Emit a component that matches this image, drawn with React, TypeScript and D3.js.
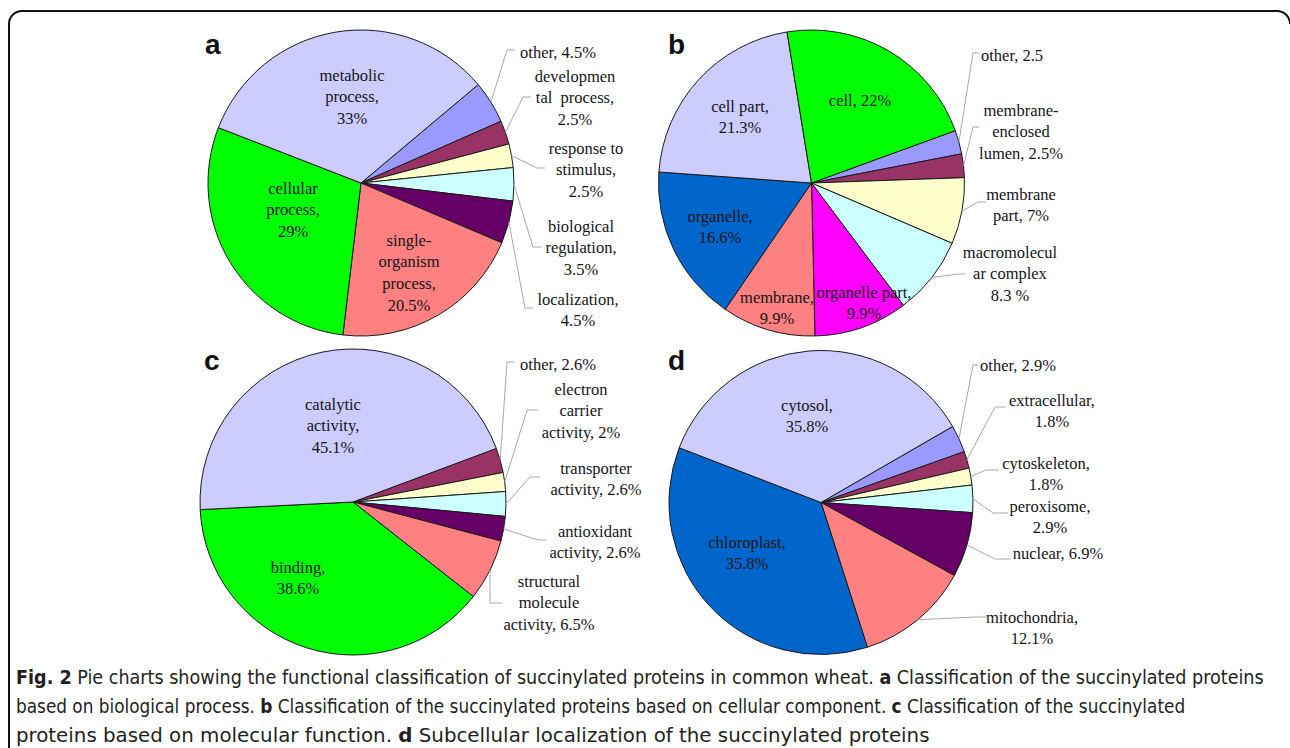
import React, { useEffect, useRef } from 'react';
import * as d3 from 'd3';

// a: biological process
const processNames = ['other', 'developmental process', 'response to stimulus', 'biological regulation', 'localization', 'single-organism process', 'cellular process', 'metabolic process'];
const processValues = [4.5, 2.5, 2.5, 3.5, 4.5, 20.5, 29, 33];
const processLines = [
  ['other, 4.5%'],
  ['developmen', 'tal  process,', '2.5%'],
  ['response to', 'stimulus,', '2.5%'],
  ['biological', 'regulation,', '3.5%'],
  ['localization,', '4.5%'],
  ['single-', 'organism', 'process,', '20.5%'],
  ['cellular', 'process,', '29%'],
  ['metabolic', 'process,', '33%'],
];

// b: cellular component
const componentNames = ['other', 'membrane-enclosed lumen', 'membrane part', 'macromolecular complex', 'organelle part', 'membrane', 'organelle', 'cell part', 'cell'];
const componentValues = [2.5, 2.5, 7, 8.3, 9.9, 9.9, 16.6, 21.3, 22];
const componentLines = [
  ['other, 2.5'],
  ['membrane-', 'enclosed', 'lumen, 2.5%'],
  ['membrane', 'part, 7%'],
  ['macromolecul', 'ar complex', '8.3 %'],
  ['organelle part,', '9.9%'],
  ['membrane,', '9.9%'],
  ['organelle,', '16.6%'],
  ['cell part,', '21.3%'],
  ['cell, 22%'],
];

// c: molecular function
const functionNames = ['other', 'electron carrier activity', 'transporter activity', 'antioxidant activity', 'structural molecule activity', 'binding', 'catalytic activity'];
const functionValues = [2.6, 2, 2.6, 2.6, 6.5, 38.6, 45.1];
const functionLines = [
  ['other, 2.6%'],
  ['electron', 'carrier', 'activity, 2%'],
  ['transporter', 'activity, 2.6%'],
  ['antioxidant', 'activity, 2.6%'],
  ['structural', 'molecule', 'activity, 6.5%'],
  ['binding,', '38.6%'],
  ['catalytic', 'activity,', '45.1%'],
];

// d: subcellular localization
const locationNames = ['other', 'extracellular', 'cytoskeleton', 'peroxisome', 'nuclear', 'mitochondria', 'chloroplast', 'cytosol'];
const locationValues = [2.9, 1.8, 1.8, 2.9, 6.9, 12.1, 35.8, 35.8];
const locationLines = [
  ['other, 2.9%'],
  ['extracellular,', '1.8%'],
  ['cytoskeleton,', '1.8%'],
  ['peroxisome,', '2.9%'],
  ['nuclear, 6.9%'],
  ['mitochondria,', '12.1%'],
  ['chloroplast,', '35.8%'],
  ['cytosol,', '35.8%'],
];

const captionLines = [
  [['Fig. 2', true], [' Pie charts showing the functional classification of succinylated proteins in common wheat. ', false], ['a', true], [' Classification of the succinylated proteins', false]],
  [['based on biological process. ', false], ['b', true], [' Classification of the succinylated proteins based on cellular component. ', false], ['c', true], [' Classification of the succinylated', false]],
  [['proteins based on molecular function. ', false], ['d', true], [' Subcellular localization of the succinylated proteins', false]],
];

// colours (Excel-like palette)
const processColors = ['#9999FF', '#993366', '#FFFFCC', '#CCFFFF', '#660066', '#FF8080', '#00FF00', '#CCCCFF'];
const componentColors = ['#9999FF', '#993366', '#FFFFCC', '#CCFFFF', '#FF00FF', '#FF8080', '#0066CC', '#CCCCFF', '#00FF00'];
const functionColors = ['#993366', '#FFFFCC', '#CCFFFF', '#660066', '#FF8080', '#00FF00', '#CCCCFF'];
const locationColors = ['#9999FF', '#993366', '#FFFFCC', '#CCFFFF', '#660066', '#FF8080', '#0066CC', '#CCCCFF'];

type Slot = { inside?: boolean; x: number; y: number; elbow?: number[]; end?: number[]; anchor?: string };

// label placement (layout only)
const processSlots: Slot[] = [
  { x: 558, y: 52, elbow: [507, 50], end: [515, 50] },
  { x: 575, y: 76, elbow: [523, 97], end: [531, 97] },
  { x: 586, y: 148, elbow: [537, 168], end: [545, 168] },
  { x: 581, y: 226, elbow: [533, 247], end: [542, 247] },
  { x: 578, y: 299, elbow: [525, 308], end: [533, 308] },
  { inside: true, x: 409, y: 240 },
  { inside: true, x: 293, y: 188 },
  { inside: true, x: 352, y: 75 },
];
const componentSlots: Slot[] = [
  { x: 981, y: 55, elbow: [973, 53], end: [979, 53], anchor: 'start' },
  { x: 1021, y: 110, elbow: [973, 127], end: [979, 127] },
  { x: 1021, y: 194, elbow: [978, 202], end: [986, 202] },
  { x: 1010, y: 252, elbow: [958, 274], end: [965, 274] },
  { inside: true, x: 864, y: 292 },
  { inside: true, x: 777, y: 297 },
  { inside: true, x: 720, y: 216 },
  { inside: true, x: 740, y: 106 },
  { inside: true, x: 860, y: 100 },
];
const functionSlots: Slot[] = [
  { x: 558, y: 364, elbow: [507, 362], end: [515, 362] },
  { x: 581, y: 389, elbow: [527, 410], end: [538, 410] },
  { x: 596, y: 468, elbow: [530, 477], end: [540, 477] },
  { x: 595, y: 531, elbow: [538, 540], end: [546, 540] },
  { x: 549, y: 581, elbow: [490, 603], end: [502, 603] },
  { inside: true, x: 298, y: 567 },
  { inside: true, x: 333, y: 404 },
];
const locationSlots: Slot[] = [
  { x: 1018, y: 365, elbow: [973, 365], end: [978, 365] },
  { x: 1052, y: 400, elbow: [995, 407], end: [1006, 407] },
  { x: 1046, y: 463, elbow: [986, 470], end: [999, 470] },
  { x: 1050, y: 506, elbow: [993, 513], end: [1008, 513] },
  { x: 1058, y: 553, elbow: [995, 559], end: [1011, 559] },
  { x: 1032, y: 617, elbow: [975, 617], end: [987, 617] },
  { inside: true, x: 747, y: 542 },
  { inside: true, x: 807, y: 405 },
];

const panels = [
  { letter: 'a', values: processValues, lines: processLines, colors: processColors, slots: processSlots, cx: 361, cy: 183, r: 153, start: 50, lx: 205, ly: 54 },
  { letter: 'b', values: componentValues, lines: componentLines, colors: componentColors, slots: componentSlots, cx: 811.5, cy: 183, r: 153, start: 70, lx: 668, ly: 54 },
  { letter: 'c', values: functionValues, lines: functionLines, colors: functionColors, slots: functionSlots, cx: 353, cy: 502, r: 153, start: 69.5, lx: 204, ly: 370 },
  { letter: 'd', values: locationValues, lines: locationLines, colors: locationColors, slots: locationSlots, cx: 821, cy: 502.5, r: 152, start: 60, lx: 668, ly: 370 },
];

const W = 1290;
const H = 748;
const LH = 21.6;

const App = () => {
  const ref = useRef<SVGSVGElement>(null);

  useEffect(() => {
    const svg = d3.select(ref.current);
    svg.selectAll('*').remove();

    // figure frame
    svg.append('path')
      .attr('d', `M9,${H} L9,24 A13,13 0 0 1 22,11 L1277,11 A13,13 0 0 1 1290,24`)
      .attr('fill', 'none')
      .attr('stroke', '#111')
      .attr('stroke-width', 2);

    panels.forEach(p => {
      const a0 = (p.start * Math.PI) / 180;
      const pie = d3.pie<number>().sort(null).value(d => d).startAngle(a0).endAngle(a0 + 2 * Math.PI);
      const arcs = pie(p.values);
      const arc = d3.arc<d3.PieArcDatum<number>>().innerRadius(0).outerRadius(p.r);

      const g = svg.append('g');

      g.append('g')
        .attr('transform', `translate(${p.cx},${p.cy})`)
        .selectAll('path')
        .data(arcs)
        .enter()
        .append('path')
        .attr('d', arc)
        .attr('fill', (d, i) => p.colors[i])
        .attr('stroke', '#1a1a1a')
        .attr('stroke-width', 1);

      // leader lines
      arcs.forEach((d, i) => {
        const s = p.slots[i];
        if (s.inside || !s.elbow || !s.end) return;
        const mid = (d.startAngle + d.endAngle) / 2;
        const x0 = p.cx + p.r * Math.sin(mid);
        const y0 = p.cy - p.r * Math.cos(mid);
        g.append('polyline')
          .attr('points', `${x0},${y0} ${s.elbow[0]},${s.elbow[1]} ${s.end[0]},${s.end[1]}`)
          .attr('fill', 'none')
          .attr('stroke', '#a8a8a8')
          .attr('stroke-width', 1);
      });

      // slice labels
      p.lines.forEach((lines, i) => {
        const s = p.slots[i];
        const t = g.append('text')
          .attr('text-anchor', s.anchor || 'middle')
          .style('font-family', "'Liberation Serif', 'Times New Roman', serif")
          .style('font-size', '16.5px')
          .style('white-space', 'pre')
          .attr('fill', '#151515');
        lines.forEach((ln, k) => {
          t.append('tspan')
            .attr('x', s.x)
            .attr('y', s.y + k * LH)
            .attr('dy', '0.35em')
            .text(ln);
        });
      });

      // panel letter
      g.append('text')
        .attr('x', p.lx)
        .attr('y', p.ly)
        .style('font-family', "'Liberation Sans', Arial, sans-serif")
        .style('font-size', '28px')
        .style('font-weight', 'bold')
        .attr('fill', '#111')
        .text(p.letter);
    });

    // caption: condensed sans, each line squeezed to the width it has in the figure
    const capY = [684, 713, 742];
    const capLen = [1249, 1170, 914];
    captionLines.forEach((parts, i) => {
      const t = svg.append('text')
        .attr('x', 0)
        .attr('y', 0)
        .style('font-family', "'Liberation Sans Narrow', 'DejaVu Sans Condensed', 'Open Sans', sans-serif")
        .style('font-size', '20px')
        .style('white-space', 'pre')
        .attr('fill', '#231f20');
      parts.forEach(([txt, bold]) => {
        t.append('tspan')
          .style('font-weight', bold ? 'bold' : 'normal')
          .text(txt as string);
      });
      const w = (t.node() as SVGTextElement).getComputedTextLength() || capLen[i];
      t.attr('transform', `translate(16,${capY[i]}) scale(${capLen[i] / w},1)`);
    });
  }, []);

  return (
    <div style={{ position: 'absolute', left: 0, top: 0, width: W, height: H, background: '#fff' }}>
      <svg ref={ref} width={W} height={H} style={{ display: 'block' }} />
    </div>
  );
};

export default App;
